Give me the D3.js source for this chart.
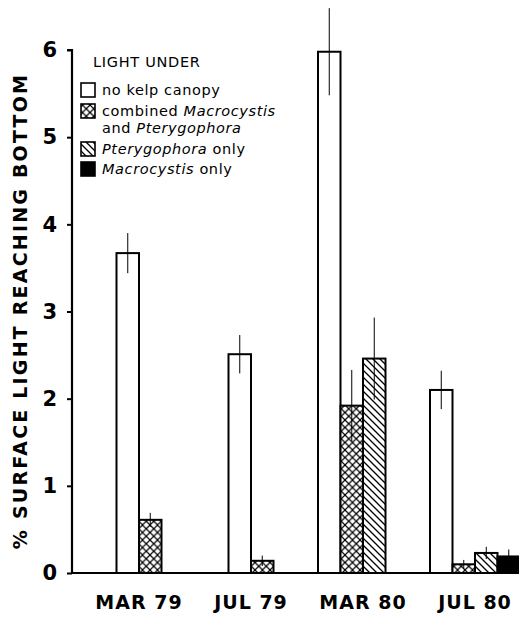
<!DOCTYPE html>
<html>
<head>
<meta charset="utf-8">
<script src="https://cdn.jsdelivr.net/npm/d3@7"></script>
<style>
  body { margin: 0; background: #fff; }
  svg { display: block; }
</style>
</head>
<body>
<div id="chart"></div>
<script>
const width = 519;
const height = 620;

// data
const months = ["MAR 79", "JUL 79", "MAR 80", "JUL 80"];
const seriesKeys = ["none", "combined", "ptery", "macro"];
const noKelp      = [3.67, 2.51, 5.98, 2.10];
const noKelpErr   = [0.23, 0.22, 0.50, 0.22];
const combined    = [0.61, 0.14, 1.92, 0.10];
const combinedErr = [0.08, 0.06, 0.41, 0.05];
const pteryOnly   = [null, null, 2.46, 0.23];
const pteryErr    = [null, null, 0.47, 0.07];
const macroOnly   = [null, null, null, 0.19];
const macroErr    = [null, null, null, 0.08];
const yTicks = [0, 1, 2, 3, 4, 5, 6];

const valuesBySeries = [noKelp, combined, pteryOnly, macroOnly];
const errBySeries = [noKelpErr, combinedErr, pteryErr, macroErr];

const fillFor = {
  none: "#fff",
  combined: "url(#cross)",
  ptery: "url(#diag)",
  macro: "#000"
};

const x0 = 72;
const y0 = 573;

const svg = d3.select("#chart").append("svg")
  .attr("width", width)
  .attr("height", height);

const defs = svg.append("defs");
const cross = defs.append("pattern")
  .attr("id", "cross")
  .attr("patternUnits", "userSpaceOnUse")
  .attr("width", 7.5).attr("height", 7.5);
cross.append("rect").attr("width", 7.5).attr("height", 7.5).attr("fill", "#fff");
cross.append("path").attr("d", "M0,0L7.5,7.5M7.5,0L0,7.5")
  .attr("stroke", "#000").attr("stroke-width", 1.2);

const diag = defs.append("pattern")
  .attr("id", "diag")
  .attr("patternUnits", "userSpaceOnUse")
  .attr("width", 7).attr("height", 7);
diag.append("rect").attr("width", 7).attr("height", 7).attr("fill", "#fff");
diag.append("path").attr("d", "M-1.75,5.25L1.75,8.75M0,0L7,7M5.25,-1.75L8.75,1.75")
  .attr("stroke", "#000").attr("stroke-width", 1.3);

const yScale = d3.scaleLinear().domain([0, 6]).range([y0, 50]);
const xScale = d3.scalePoint().domain(months).range([139, 475]);
const barW = 22.5;

// build bars, present ones centred on the month label
const bars = [];
months.forEach((m, i) => {
  const present = seriesKeys.map((k, s) => ({ key: k, v: valuesBySeries[s][i], e: errBySeries[s][i] }))
    .filter(d => d.v != null);
  const nSlots = 2 * Math.ceil(present.length / 2);
  const inner = d3.scaleBand().domain(d3.range(nSlots))
    .range([-nSlots * barW / 2, nSlots * barW / 2]);
  present.forEach((d, j) => {
    bars.push({ month: m, key: d.key, v: d.v, e: d.e, x: xScale(m) + inner(j), w: inner.bandwidth() });
  });
});

// x baseline
svg.append("line")
  .attr("x1", x0).attr("x2", width)
  .attr("y1", y0).attr("y2", y0)
  .attr("stroke", "#000").attr("stroke-width", 2.2);

const barG = svg.append("g");
barG.selectAll("rect").data(bars).enter()
  .append("rect")
  .attr("x", d => d.x)
  .attr("y", d => yScale(d.v))
  .attr("width", d => d.w)
  .attr("height", d => y0 - yScale(d.v))
  .attr("fill", d => fillFor[d.key])
  .attr("stroke", "#000")
  .attr("stroke-width", 2);

barG.selectAll("line.err").data(bars).enter()
  .append("line")
  .attr("class", "err")
  .attr("x1", d => d.x + d.w / 2).attr("x2", d => d.x + d.w / 2)
  .attr("y1", d => yScale(d.v + d.e))
  .attr("y2", d => yScale(d.v - d.e))
  .attr("stroke", "#000")
  .attr("stroke-width", 1);

// y axis
const yAxis = d3.axisLeft(yScale).tickValues(yTicks).tickSize(5).tickPadding(10).tickFormat(d3.format("d"));
const yG = svg.append("g")
  .attr("transform", `translate(${x0},0)`)
  .call(yAxis);
yG.select(".domain").attr("stroke-width", 2.2).attr("d", `M-5,${yScale(6)}H0V${y0}`);
yG.selectAll(".tick line").attr("stroke-width", 2);
yG.selectAll(".tick text")
  .style("font-family", "'DejaVu Sans', sans-serif")
  .style("font-size", "21px")
  .style("font-weight", "bold")
  .attr("fill", "#000");

svg.append("text")
  .attr("transform", `translate(27,${(72 + 550) / 2}) rotate(-90)`)
  .attr("text-anchor", "middle")
  .style("font-family", "'DejaVu Sans', sans-serif")
  .style("font-size", "19px")
  .style("font-weight", "bold")
  .style("letter-spacing", "2.2px")
  .text("% SURFACE LIGHT REACHING BOTTOM");

// x labels
svg.append("g").selectAll("text").data(months).enter()
  .append("text")
  .attr("x", d => xScale(d))
  .attr("y", 609)
  .attr("text-anchor", "middle")
  .style("font-family", "'DejaVu Sans', sans-serif")
  .style("font-size", "19px")
  .style("font-weight", "bold")
  .style("letter-spacing", "1px")
  .text(d => d);

// legend
const legend = svg.append("g")
  .style("font-family", "'DejaVu Sans', sans-serif")
  .style("font-size", "14.5px");
legend.append("text").attr("x", 93).attr("y", 67)
  .style("letter-spacing", "0.7px")
  .text("LIGHT UNDER");

const legendRows = [
  { key: "none", y: 83, lines: [[{ t: "no kelp canopy" }]] },
  { key: "combined", y: 104, lines: [[{ t: "combined " }, { t: "Macrocystis", i: true }], [{ t: "and " }, { t: "Pterygophora", i: true }]] },
  { key: "ptery", y: 142, lines: [[{ t: "Pterygophora", i: true }, { t: " only" }]] },
  { key: "macro", y: 162, lines: [[{ t: "Macrocystis", i: true }, { t: " only" }]] }
];
legendRows.forEach(r => {
  legend.append("rect")
    .attr("x", 81).attr("y", r.y)
    .attr("width", 14).attr("height", 14)
    .attr("fill", fillFor[r.key])
    .attr("stroke", "#000").attr("stroke-width", 1.6);
  r.lines.forEach((ln, li) => {
    const t = legend.append("text")
      .attr("x", 102)
      .attr("y", r.y + 12 + li * 17)
      .style("letter-spacing", "0.6px");
    ln.forEach(part => {
      t.append("tspan")
        .style("font-style", part.i ? "italic" : "normal")
        .text(part.t);
    });
  });
});
</script>
</body>
</html>
